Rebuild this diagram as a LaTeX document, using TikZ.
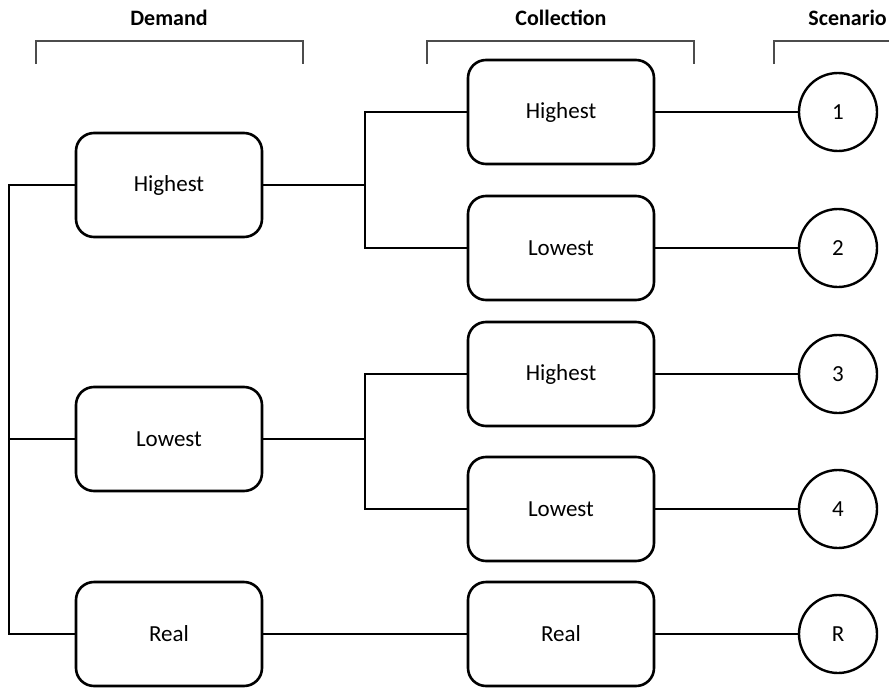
\documentclass[tikz,border=0pt]{standalone}
\usepackage{fontspec}
\setmainfont{Carlito}
\begin{document}
\begin{tikzpicture}[x=1pt,y=-1pt,
  box/.style={draw,line width=2.6pt,rounded corners=18pt,minimum width=186pt,minimum height=104pt,inner sep=0pt,font=\fontsize{23}{27}\selectfont},
  scen/.style={draw,circle,line width=2.4pt,minimum size=78pt,inner sep=0pt,font=\fontsize{23}{27}\selectfont},
  conn/.style={line width=2.6pt},
  brk/.style={line width=1.4pt,draw=black!70},
  head/.style={font=\bfseries\fontsize{22}{26}\selectfont}]
\useasboundingbox (0,0) rectangle (889,688);
% headers
\node[head] (hd) at (169,18) {Demand};
\node[head] (hc) at (561,18) {Collection};
\node[head,anchor=east,inner sep=1pt] (hs) at (888,18) {Scenario};
\draw[brk] (36,64) -- (36,41) -- (303,41) -- (303,64);
\draw[brk] (427,64) -- (427,41) -- (694,41) -- (694,64);
\draw[brk] (774,64) -- (774,41) -- (889,41);
% demand
\node[box] (d1) at (169,185) {Highest};
\node[box] (d2) at (169,439) {Lowest};
\node[box] (d3) at (169,634) {Real};
% collection
\node[box] (c1) at (561,112) {Highest};
\node[box] (c2) at (561,248) {Lowest};
\node[box] (c3) at (561,374) {Highest};
\node[box] (c4) at (561,509) {Lowest};
\node[box] (c5) at (561,634) {Real};
% scenarios
\node[scen] (s1) at (838,112) {1};
\node[scen] (s2) at (838,248) {2};
\node[scen] (s3) at (838,374) {3};
\node[scen] (s4) at (838,509) {4};
\node[scen] (s5) at (838,634) {R};
% coordinates
\coordinate (bt) at (9,185);
\coordinate (bm) at (9,439);
\coordinate (bb) at (9,634);
\coordinate (j1) at (365,185);
\coordinate (j1t) at (365,112);
\coordinate (j1b) at (365,248);
\coordinate (j2) at (365,439);
\coordinate (j2t) at (365,374);
\coordinate (j2b) at (365,509);
% connectors
\draw[conn] (d1.west) -- (bt) -- (bb) -- (d3.west);
\draw[conn] (bm) -- (d2.west);
\draw[conn] (d1.east) -- (j1);
\draw[conn] (c1.west) -- (j1t) -- (j1b) -- (c2.west);
\draw[conn] (d2.east) -- (j2);
\draw[conn] (c3.west) -- (j2t) -- (j2b) -- (c4.west);
\draw[conn] (d3.east) -- (c5.west);
\draw[conn] (c1.east) -- (s1.west);
\draw[conn] (c2.east) -- (s2.west);
\draw[conn] (c3.east) -- (s3.west);
\draw[conn] (c4.east) -- (s4.west);
\draw[conn] (c5.east) -- (s5.west);
\end{tikzpicture}
\end{document}
